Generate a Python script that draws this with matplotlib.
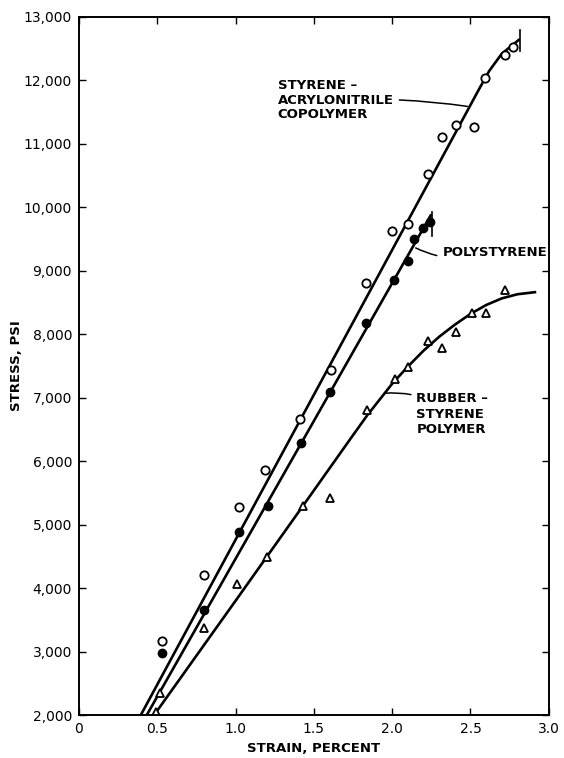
import numpy as np
import matplotlib.pyplot as plt

# styrene-acrylonitrile copolymer (open circles)
san_x = [0.53, 0.80, 1.02, 1.19, 1.41, 1.61, 1.83, 2.00, 2.10, 2.23, 2.32, 2.41, 2.52, 2.59, 2.72, 2.77]
san_y = [3160, 4200, 5280, 5860, 6660, 7440, 8810, 9630, 9740, 10530, 11100, 11290, 11260, 12040, 12400, 12520]
san_line_x = [0.395, 2.55, 2.62, 2.70, 2.815]
san_line_y = [2000, 11840, 12150, 12420, 12650]

# polystyrene (filled circles)
ps_x = [0.53, 0.80, 1.02, 1.21, 1.42, 1.60, 1.83, 2.01, 2.10, 2.14, 2.20, 2.24]
ps_y = [2970, 3660, 4890, 5300, 6290, 7090, 8180, 8850, 9160, 9500, 9680, 9770]
ps_line_x = [0.433, 2.25]
ps_line_y = [2000, 9890]

# rubber-styrene polymer (triangles)
rs_x = [0.49, 0.52, 0.80, 1.01, 1.20, 1.43, 1.60, 1.84, 2.02, 2.10, 2.23, 2.32, 2.41, 2.51, 2.60, 2.72]
rs_y = [2050, 2340, 3370, 4060, 4490, 5300, 5420, 6810, 7290, 7480, 7900, 7790, 8030, 8330, 8340, 8700]
rs_line_x = [0.48, 1.0, 1.435, 1.73, 1.84, 2.0, 2.1, 2.2, 2.3, 2.4, 2.5, 2.6, 2.7, 2.8, 2.92]
rs_line_y = [2000, 3800, 5312, 6340, 6720, 7220, 7490, 7740, 7960, 8150, 8320, 8460, 8565, 8630, 8665]

xticks = [0, 0.5, 1.0, 1.5, 2.0, 2.5, 3.0]
xlabels = ['0', '0.5', '1.0', '1.5', '2.0', '2.5', '3.0']
yticks = list(range(2000, 13001, 1000))
ylabels = ['{:,}'.format(v) for v in yticks]

fig = plt.figure(figsize=(5.64, 7.58), dpi=100)
ax = fig.add_axes([0.140, 0.0567, 0.833, 0.921])

lw = 1.9
ax.plot(san_line_x, san_line_y, color='black', lw=lw, solid_capstyle='butt', solid_joinstyle='round')
ax.plot(ps_line_x, ps_line_y, color='black', lw=lw, solid_capstyle='butt')
ax.plot(rs_line_x, rs_line_y, color='black', lw=lw, solid_capstyle='butt', solid_joinstyle='round')

# end-of-test bars
ax.plot([2.815, 2.815], [12470, 12800], color='black', lw=1.2)
ax.plot([2.255, 2.255], [9540, 9920], color='black', lw=1.2)

ax.plot(san_x, san_y, 'o', ms=6, mfc='white', mec='black', mew=1.3)
ax.plot(ps_x, ps_y, 'o', ms=6, mfc='black', mec='black')
ax.plot(rs_x, rs_y, '^', ms=6, mfc='white', mec='black', mew=1.3)

txt = dict(fontsize=9.5, fontweight='bold', color='black', va='center', ha='left',
           linespacing=1.15)
lead = dict(arrowstyle='-', color='black', lw=1.1, shrinkA=2, shrinkB=0)

ax.annotate('STYRENE –\nACRYLONITRILE\nCOPOLYMER', xy=(2.48, 11590), xytext=(1.27, 11685),
            arrowprops=dict(**lead, connectionstyle='arc3,rad=-0.05'), **txt)
ax.annotate('POLYSTYRENE', xy=(2.15, 9360), xytext=(2.32, 9280),
            arrowprops=dict(**lead, connectionstyle='arc3,rad=-0.2'), **txt)
ax.annotate('RUBBER –\nSTYRENE\nPOLYMER', xy=(1.95, 7070), xytext=(2.155, 6738),
            arrowprops=dict(**lead, connectionstyle='arc3,rad=0.2'),
            **{**txt, 'linespacing': 1.25})

ax.set_xlim(0, 3.0)
ax.set_ylim(2000, 13000)
ax.set_xticks(xticks)
ax.set_xticklabels(xlabels)
ax.set_yticks(yticks)
ax.set_yticklabels(ylabels)
ax.tick_params(direction='in', length=5, width=1, top=True, right=True,
               labelsize=10, pad=5)
for s in ax.spines.values():
    s.set_linewidth(1.4)

ax.set_xlabel('STRAIN, PERCENT', fontsize=9.5, fontweight='bold', labelpad=4)
ax.set_ylabel('STRESS, PSI', fontsize=9.5, fontweight='bold', labelpad=0.5)

fig.savefig('out.png', dpi=100)
